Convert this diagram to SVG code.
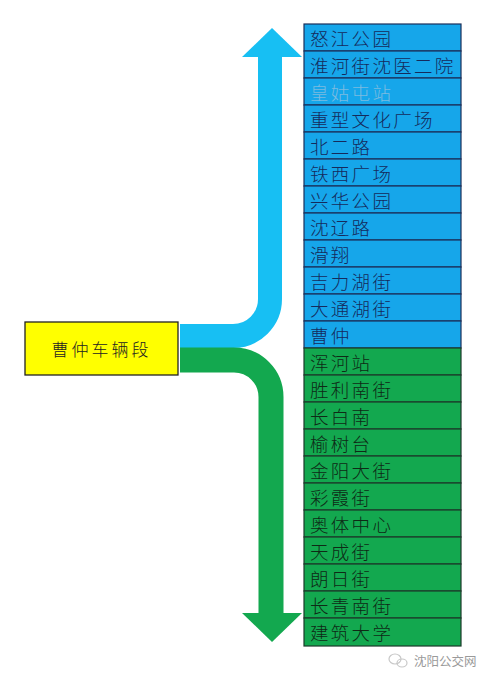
<svg xmlns="http://www.w3.org/2000/svg" width="485" height="677" viewBox="0 0 485 677">
<style>
.st{font-family:"Noto Sans CJK SC","Noto Sans CJK TC",sans-serif;font-size:18.5px;letter-spacing:2.3px;font-weight:300}
.b rect{fill:#16a6ea;stroke:#1c2f5a;stroke-width:1.2}
.g rect{fill:#13a84f;stroke:#1c3a2a;stroke-width:1.2}
.b text{fill:#152a5c}
.g text{fill:#0e2a16}
</style>
<rect width="485" height="677" fill="#ffffff"/>
<g id="connectors">
<path d="M180,336 H233 A37,37 0 0 0 270,299 V56" fill="none" stroke="#17bff3" stroke-width="24"/>
<polygon points="242,57 302,57 272,28" fill="#17bff3"/>
<path d="M180,360 H234 A37,37 0 0 1 271,397 V614" fill="none" stroke="#13a84f" stroke-width="25"/>
<polygon points="242,613 302,613 272,642" fill="#13a84f"/>
</g>
<g id="depot">
<rect x="25" y="322" width="153" height="53" fill="#ffff00" stroke="#222" stroke-width="1.3"/>
<text x="101.5" y="356" text-anchor="middle" style="font-family:'Noto Sans CJK SC',sans-serif;font-size:17px;letter-spacing:3px;font-weight:300;fill:#222">曹仲车辆段</text>
</g>
<g id="s1" class="b"><rect x="304" y="24" width="157" height="27"/><text class="st" x="310" y="45.5">怒江公园</text></g>
<g id="s2" class="b"><rect x="304" y="51" width="157" height="27"/><text class="st" x="310" y="72.5">淮河街沈医二院</text></g>
<g id="s3" class="b"><rect x="304" y="78" width="157" height="27"/><text class="st" x="310" y="99.5" style="fill:#7dbbe0">皇姑屯站</text></g>
<g id="s4" class="b"><rect x="304" y="105" width="157" height="27"/><text class="st" x="310" y="126.5">重型文化广场</text></g>
<g id="s5" class="b"><rect x="304" y="132" width="157" height="27"/><text class="st" x="310" y="153.5">北二路</text></g>
<g id="s6" class="b"><rect x="304" y="159" width="157" height="27"/><text class="st" x="310" y="180.5">铁西广场</text></g>
<g id="s7" class="b"><rect x="304" y="186" width="157" height="27"/><text class="st" x="310" y="207.5">兴华公园</text></g>
<g id="s8" class="b"><rect x="304" y="213" width="157" height="27"/><text class="st" x="310" y="234.5">沈辽路</text></g>
<g id="s9" class="b"><rect x="304" y="240" width="157" height="27"/><text class="st" x="310" y="261.5">滑翔</text></g>
<g id="s10" class="b"><rect x="304" y="267" width="157" height="27"/><text class="st" x="310" y="288.5">吉力湖街</text></g>
<g id="s11" class="b"><rect x="304" y="294" width="157" height="27"/><text class="st" x="310" y="315.5">大通湖街</text></g>
<g id="s12" class="b"><rect x="304" y="321" width="157" height="27"/><text class="st" x="310" y="342.5">曹仲</text></g>
<g id="s13" class="g"><rect x="304" y="348" width="157" height="27"/><text class="st" x="310" y="369.5">浑河站</text></g>
<g id="s14" class="g"><rect x="304" y="375" width="157" height="27"/><text class="st" x="310" y="396.5">胜利南街</text></g>
<g id="s15" class="g"><rect x="304" y="402" width="157" height="27"/><text class="st" x="310" y="423.5">长白南</text></g>
<g id="s16" class="g"><rect x="304" y="429" width="157" height="27"/><text class="st" x="310" y="450.5">榆树台</text></g>
<g id="s17" class="g"><rect x="304" y="456" width="157" height="27"/><text class="st" x="310" y="477.5">金阳大街</text></g>
<g id="s18" class="g"><rect x="304" y="483" width="157" height="27"/><text class="st" x="310" y="504.5">彩霞街</text></g>
<g id="s19" class="g"><rect x="304" y="510" width="157" height="27"/><text class="st" x="310" y="531.5">奥体中心</text></g>
<g id="s20" class="g"><rect x="304" y="537" width="157" height="27"/><text class="st" x="310" y="558.5">天成街</text></g>
<g id="s21" class="g"><rect x="304" y="564" width="157" height="27"/><text class="st" x="310" y="585.5">朗日街</text></g>
<g id="s22" class="g"><rect x="304" y="591" width="157" height="27"/><text class="st" x="310" y="612.5">长青南街</text></g>
<g id="s23" class="g"><rect x="304" y="618" width="157" height="28"/><text class="st" x="310" y="640">建筑大学</text></g>
<g id="watermark">
<ellipse cx="395" cy="659" rx="6" ry="5" fill="none" stroke="#c8c8c8" stroke-width="1.2"/>
<ellipse cx="402" cy="663" rx="5" ry="4" fill="none" stroke="#c8c8c8" stroke-width="1.2"/>
<text x="414" y="666" style="font-family:'Noto Sans CJK SC',sans-serif;font-size:12.5px;fill:#9a9a9a">沈阳公交网</text>
</g>
</svg>
